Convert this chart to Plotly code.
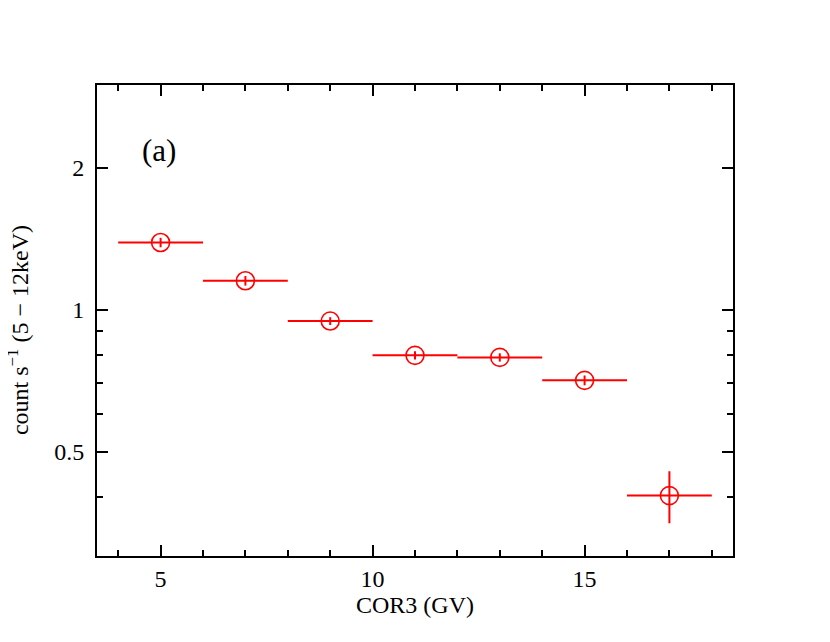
import plotly.graph_objects as go

# COR3 bins (GV) and count rate (5-12 keV)
cor3 = [5, 7, 9, 11, 13, 15, 17]
cor3_err = [1, 1, 1, 1, 1, 1, 1]
rate = [1.389, 1.152, 0.946, 0.800, 0.792, 0.708, 0.403]
rate_err = [0.032, 0.027, 0.018, 0.016, 0.016, 0.017, 0.051]

y_major = [0.5, 1, 2]
y_minor = [0.3, 0.4, 0.6, 0.7, 0.8, 0.9, 3]

FONT = "Liberation Serif"
RED = "#ff0000"

fig = go.Figure()
fig.add_trace(go.Scatter(
    x=cor3, y=rate,
    mode="markers",
    marker=dict(symbol="circle-open", size=18, color=RED, line=dict(width=1.6, color=RED)),
    error_x=dict(type="data", array=cor3_err, color=RED, thickness=2, width=0),
    error_y=dict(type="data", array=rate_err, color=RED, thickness=2, width=0),
    showlegend=False,
))

# panel label
fig.add_annotation(text="(a)", x=0.097, y=0.86, xref="paper", yref="paper",
                   xanchor="center", yanchor="middle",
                   showarrow=False, font=dict(family=FONT, size=31, color="black"))

# y title as rotated annotation (sits further out than the axis title allows)
fig.add_annotation(text="count s<sup>−1</sup> (5 − 12keV)", x=-0.124, y=0.48,
                   xref="paper", yref="paper", xanchor="center", yanchor="middle",
                   textangle=-90, showarrow=False,
                   font=dict(family=FONT, size=24, color="black"))

fig.update_xaxes(
    range=[3.5, 18.5], tickvals=[5, 10, 15],
    ticks="inside", ticklen=11, tickwidth=2, tickcolor="black",
    minor=dict(dtick=1, tick0=0, ticks="inside", ticklen=6, tickwidth=2, tickcolor="black"),
    showline=True, linewidth=2, linecolor="black", mirror="ticks",
    showgrid=False, zeroline=False, automargin=False,
    title=dict(text="COR3 (GV)", font=dict(family=FONT, size=24, color="black"), standoff=4),
    tickfont=dict(family=FONT, size=24, color="black"),
)
fig.update_yaxes(
    type="log", range=[-0.5229, 0.4771],
    tickvals=y_major, ticktext=["0.5", "1", "2"],
    ticks="inside", ticklen=11, tickwidth=2, tickcolor="black",
    minor=dict(tickvals=y_minor, ticks="inside", ticklen=6, tickwidth=2, tickcolor="black", showgrid=False),
    showline=True, linewidth=2, linecolor="black", mirror="ticks",
    showgrid=False, zeroline=False, automargin=False,
    tickfont=dict(family=FONT, size=24, color="black"),
    ticklabelstandoff=6,
)

fig.update_layout(
    width=830, height=642,
    margin=dict(l=89, r=105, t=77, b=94),
    plot_bgcolor="white", paper_bgcolor="white",
    font=dict(family=FONT, color="black"),
)

fig.write_html("out.html")
